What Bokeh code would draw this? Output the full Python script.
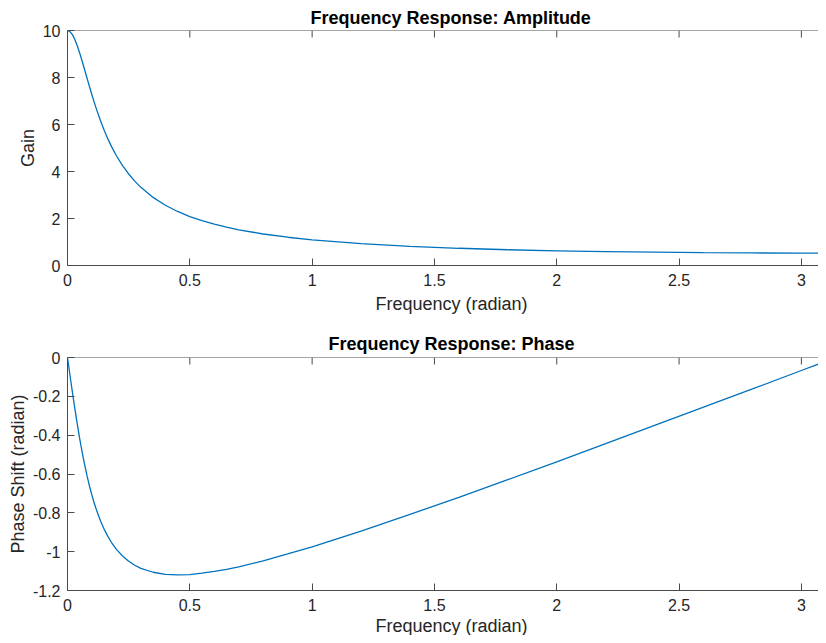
from math import pi
from bokeh.plotting import figure
from bokeh.layouts import column
from bokeh.models import FixedTicker, Title, Range1d, Span
from bokeh.embed import file_html
from bokeh.resources import INLINE

# ---- data ----
freq = [0, 0.01, 0.02, 0.03, 0.04, 0.05, 0.06, 0.07, 0.08, 0.09, 0.10, 0.11,
        0.12, 0.135, 0.15, 0.165, 0.18, 0.20, 0.225, 0.25, 0.275, 0.30, 0.35,
        0.40, 0.45, 0.50, 0.55, 0.60, 0.65, 0.70, 0.80, 0.90, 1.00, 1.20, 1.40,
        1.60, 1.80, 2.00, 2.20, 2.40, 2.60, 2.80, 3.00, 3.1416]
gain = [10.0, 9.955, 9.825, 9.618, 9.349, 9.035, 8.690, 8.331, 7.966, 7.606, 7.256, 6.921,
        6.602, 6.157, 5.753, 5.388, 5.058, 4.669, 4.250, 3.894, 3.589, 3.326, 2.897,
        2.564, 2.299, 2.084, 1.905, 1.756, 1.629, 1.519, 1.341, 1.203, 1.093, 0.929, 0.815,
        0.733, 0.671, 0.625, 0.590, 0.565, 0.546, 0.534, 0.528, 0.526]
phase = [0.0, -0.090, -0.178, -0.263, -0.343, -0.419, -0.488, -0.552, -0.610, -0.663, -0.710, -0.753,
         -0.791, -0.842, -0.885, -0.921, -0.953, -0.988, -1.022, -1.049, -1.070, -1.086, -1.106,
         -1.117, -1.120, -1.118, -1.111, -1.102, -1.091, -1.078, -1.047, -1.012, -0.975, -0.894, -0.808,
         -0.720, -0.629, -0.537, -0.444, -0.350, -0.256, -0.162, -0.067, 0.0]

x_ticks = [0, 0.5, 1, 1.5, 2, 2.5, 3]
x_tick_labels = ["0", "0.5", "1", "1.5", "2", "2.5", "3"]
gain_ticks = [0, 2, 4, 6, 8, 10]
gain_tick_labels = ["0", "2", "4", "6", "8", "10"]
phase_ticks = [-1.2, -1.0, -0.8, -0.6, -0.4, -0.2, 0]
phase_tick_labels = ["-1.2", "-1", "-0.8", "-0.6", "-0.4", "-0.2", "0"]

title_amp = "Frequency Response: Amplitude"
title_phase = "Frequency Response: Phase"
xlabel = "Frequency (radian)"
ylabel_amp = "Gain"
ylabel_phase = "Phase Shift (radian)"

FONT = "Liberation Sans"
TXT = "#262626"
AX = "#4a4a4a"
LINE = "#0072BD"
X_END = 3.070
WIDTH = 818


def style_axis(ax, ticks, labels, standoff):
    ax.ticker = FixedTicker(ticks=ticks)
    ax.major_label_overrides = {t: l for t, l in zip(ticks, labels)}
    ax.major_tick_in = 7
    ax.major_tick_out = 0
    ax.minor_tick_in = 0
    ax.minor_tick_out = 0
    ax.axis_line_color = AX
    ax.axis_line_width = 1
    ax.major_tick_line_color = AX
    ax.major_tick_line_width = 1
    ax.major_label_text_font = FONT
    ax.major_label_text_color = TXT
    ax.major_label_text_font_size = "16px"
    ax.major_label_standoff = standoff


def make_fig(height, top, frame_h, y_rng, yticks, ylabels, title, ylabel,
             title_standoff, title_offset, xlabel_standoff, ylabel_standoff):
    p = figure(width=WIDTH, height=height, title=None,
               x_range=Range1d(0, X_END), y_range=Range1d(*y_rng),
               output_backend="svg", toolbar_location=None,
               min_border_left=67, min_border_right=0,
               min_border_top=top, min_border_bottom=height - top - frame_h)
    p.outline_line_color = None
    p.xgrid.visible = False
    p.ygrid.visible = False
    p.background_fill_color = "white"
    p.border_fill_color = "white"
    style_axis(p.xaxis[0], x_ticks, x_tick_labels, 8)
    style_axis(p.yaxis[0], yticks, ylabels, 7)
    yax = p.yaxis[0]
    yax.axis_label = ylabel
    yax.axis_label_text_font = FONT
    yax.axis_label_text_font_size = "18px"
    yax.axis_label_text_font_style = "normal"
    yax.axis_label_text_color = TXT
    yax.axis_label_standoff = ylabel_standoff
    # top border with inward (mirrored) ticks
    p.add_layout(Span(location=y_rng[1], dimension="width", line_color=AX, line_width=1))
    p.ray(x=x_ticks, y=[y_rng[1]] * len(x_ticks), length=7, length_units="screen",
          angle=-pi / 2, line_color=AX, line_width=1)
    p.add_layout(Title(text=title, align="left", offset=title_offset, standoff=title_standoff,
                       text_font=FONT, text_font_size="18px", text_font_style="bold",
                       text_color="black"), "above")
    p.add_layout(Title(text=xlabel, align="left", offset=308, standoff=xlabel_standoff,
                       text_font=FONT, text_font_size="18px", text_font_style="normal",
                       text_color=TXT), "below")
    return p


# ---- amplitude ----
p1 = make_fig(320, 30, 235, (0, 10), gain_ticks, gain_tick_labels,
              title_amp, ylabel_amp, 5, 243, 7, 2)
p1.line(freq, gain, line_color=LINE, line_width=1.3)

# ---- phase ----
p2 = make_fig(315, 37, 237, (-1.2, 0), phase_ticks, phase_tick_labels,
              title_phase, ylabel_phase, 7, 261, 0, 2)
p2.line(freq, phase, line_color=LINE, line_width=1.3)

layout = column(p1, p2, spacing=0)
open("out.html", "w").write(file_html(layout, INLINE))
